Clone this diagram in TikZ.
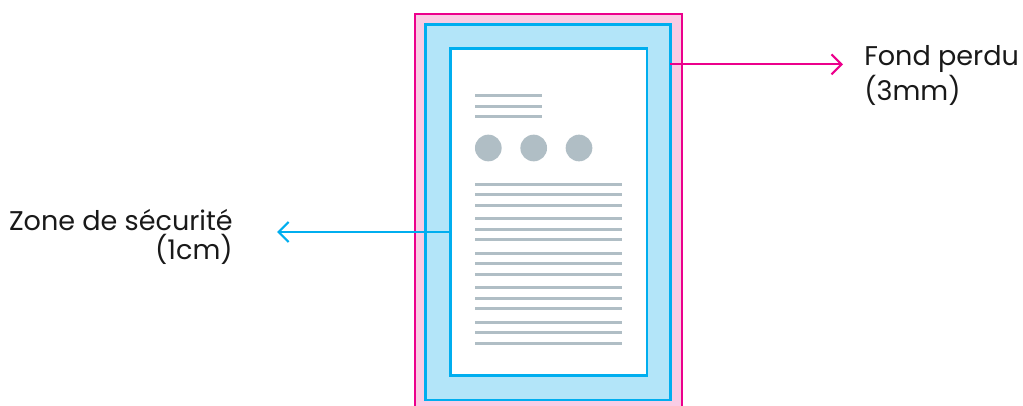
\documentclass[tikz,border=0pt]{standalone}
\usepackage{fontspec}
\setmainfont{Poppins}
\usetikzlibrary{arrows.meta}

\definecolor{bleedpink}{HTML}{EC008C}
\definecolor{bleedfill}{HTML}{F9CCE4}
\definecolor{safeblue}{HTML}{00AEEF}
\definecolor{safefill}{HTML}{B3E5F9}
\definecolor{mockgray}{HTML}{B0BEC5}

\tikzset{
  labeltext/.style={font=\fontsize{20.3}{21}\selectfont, inner sep=0pt, text=black!90},
  mockline/.style={mockgray, line width=2.25pt},
  callout/.style={line width=1.6pt, -{Straight Barb[length=7.5pt,width=15pt]}}
}

\begin{document}
\begin{tikzpicture}[x=0.75pt,y=-0.75pt]
    \useasboundingbox (0,0) rectangle (1023,406);

    % bleed area, runs off the bottom
    \begin{scope}
        \clip (0,0) rectangle (1023,406);
        \draw[bleedpink, line width=1.5pt, fill=bleedfill] (415,14.5) rectangle (681.5,430);
    \end{scope}

    % safety margin and page
    \draw[safeblue, line width=1.9pt, fill=safefill] (425.5,24.7) rectangle (670.7,399.8);
    \draw[safeblue, line width=1.9pt, fill=white] (450.3,48.7) rectangle (646.8,375.3);

    % page mock-up
    \foreach \y in {96,106.5,117}{
        \draw[mockline] (475,\y) -- (542,\y);
    }
    \foreach \x in {488.3,533.7,579}{
        \fill[mockgray] (\x,148) circle (10pt);
    }
    \foreach \g in {184.3,218.8,253.3,287.8,322.3}{
        \foreach \d in {0,10.5,21}{
            \draw[mockline] (475,\g+\d) -- (622,\g+\d);
        }
    }

    % labels
    \node[labeltext, anchor=north west, align=left] (bleedlabel) at (864,45)
        {Fond perdu\\[1pt](3mm)};
    \node[labeltext, anchor=north east, align=right] (safelabel) at (233,209)
        {Zone de sécurité\\[1pt](1cm)};

    \coordinate (bleedstart) at (670,64.3);
    \coordinate (bleedtip) at (843,64.3);
    \coordinate (safestart) at (450.3,232);
    \coordinate (safetip) at (277,232);

    \draw[callout, bleedpink] (bleedstart) -- (bleedtip);
    \draw[callout, safeblue] (safestart) -- (safetip);
\end{tikzpicture}
\end{document}
